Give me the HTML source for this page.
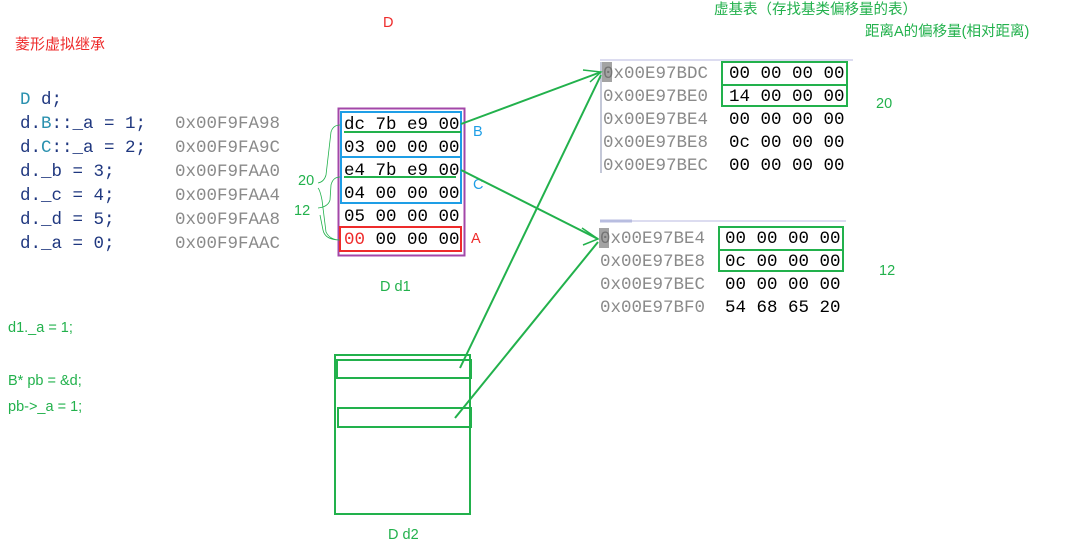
<!DOCTYPE html>
<html><head><meta charset="utf-8"><style>
html,body{margin:0;padding:0;background:#fff;}
svg{display:block}
.m{font-family:"Liberation Mono","DejaVu Sans Mono",monospace;font-size:17.5px;}
.s{font-family:"Liberation Sans","Noto Sans CJK SC",sans-serif;font-size:14.5px;}
</style></head><body>
<svg width="1067" height="550" xmlns="http://www.w3.org/2000/svg">
<g class="s">
<text x="15" y="49" fill="#ee2b2b" style="font-size:15px">菱形虚拟继承</text>
<text x="383" y="27" fill="#ee2b2b">D</text>
<text x="714" y="14" fill="#22b14c">虚基表（存找基类偏移量的表）</text>
<text x="865" y="36" fill="#22b14c">距离A的偏移量(相对距离)</text>
<text x="876" y="108" fill="#22b14c">20</text>
<text x="879" y="275" fill="#22b14c">12</text>
<text x="380" y="291" fill="#22b14c">D d1</text>
<text x="388" y="539" fill="#22b14c">D d2</text>
<text x="8" y="332" fill="#22b14c">d1._a = 1;</text>
<text x="8" y="385" fill="#22b14c">B* pb = &amp;d;</text>
<text x="8" y="411" fill="#22b14c">pb-&gt;_a = 1;</text>
<text x="473" y="136" fill="#1e9ee6">B</text>
<text x="473" y="189" fill="#1e9ee6">C</text>
<text x="471" y="243" fill="#ee2b2b">A</text>
<text x="298" y="185" fill="#22b14c">20</text>
<text x="294" y="215" fill="#22b14c">12</text>
</g>
<g class="m">
<text x="20" y="104"><tspan fill="#2b91af">D</tspan><tspan fill="#1f377f"> d;</tspan></text>
<text x="20" y="128" fill="#1f377f">d.<tspan fill="#2b91af">B</tspan>::_a = 1;</text>
<text x="20" y="152" fill="#1f377f">d.<tspan fill="#2b91af">C</tspan>::_a = 2;</text>
<text x="20" y="176" fill="#1f377f">d._b = 3;</text>
<text x="20" y="200" fill="#1f377f">d._c = 4;</text>
<text x="20" y="224" fill="#1f377f">d._d = 5;</text>
<text x="20" y="248" fill="#1f377f">d._a = 0;</text>
<g fill="#8a8a8a">
<text x="175" y="128">0x00F9FA98</text>
<text x="175" y="152">0x00F9FA9C</text>
<text x="175" y="176">0x00F9FAA0</text>
<text x="175" y="200">0x00F9FAA4</text>
<text x="175" y="224">0x00F9FAA8</text>
<text x="175" y="248">0x00F9FAAC</text>
</g>
<g fill="#000">
<text x="344" y="129">dc 7b e9 00</text>
<text x="344" y="152">03 00 00 00</text>
<text x="344" y="175">e4 7b e9 00</text>
<text x="344" y="198">04 00 00 00</text>
<text x="344" y="221">05 00 00 00</text>
<text x="344" y="244"><tspan fill="#ee2b2b">00</tspan> 00 00 00</text>
</g>
<g fill="#8a8a8a">
<text x="603" y="78">0x00E97BDC</text>
<text x="603" y="101">0x00E97BE0</text>
<text x="603" y="124">0x00E97BE4</text>
<text x="603" y="147">0x00E97BE8</text>
<text x="603" y="170">0x00E97BEC</text>
<text x="600" y="243">0x00E97BE4</text>
<text x="600" y="266">0x00E97BE8</text>
<text x="600" y="289">0x00E97BEC</text>
<text x="600" y="312">0x00E97BF0</text>
</g>
<g fill="#000">
<text x="729" y="78">00 00 00 00</text>
<text x="729" y="101">14 00 00 00</text>
<text x="729" y="124">00 00 00 00</text>
<text x="729" y="147">0c 00 00 00</text>
<text x="729" y="170">00 00 00 00</text>
<text x="725" y="243">00 00 00 00</text>
<text x="725" y="266">0c 00 00 00</text>
<text x="725" y="289">00 00 00 00</text>
<text x="725" y="312">54 68 65 20</text>
</g>
</g>
<rect x="602" y="62" width="10" height="20" fill="#666" opacity="0.6"/>
<rect x="599" y="228" width="10" height="20" fill="#666" opacity="0.6"/>
<line x1="600" y1="60" x2="853" y2="60" stroke="#dcdcf0" stroke-width="2"/>
<line x1="601" y1="62" x2="601" y2="173" stroke="#8890b0" stroke-width="1"/>
<line x1="600" y1="221" x2="846" y2="221" stroke="#dcdcf0" stroke-width="2"/>
<line x1="600" y1="221" x2="632" y2="221" stroke="#b8bde0" stroke-width="3"/>
<g fill="none">
<rect x="338.5" y="108.5" width="126" height="147" stroke="#a347a8" stroke-width="2"/>
<rect x="341" y="112" width="120" height="45" stroke="#1e9ee6" stroke-width="2"/>
<rect x="341" y="157" width="120" height="46" stroke="#1e9ee6" stroke-width="2"/>
<rect x="340" y="227" width="121" height="24" stroke="#ee2b2b" stroke-width="2"/>
<g stroke="#22b14c" stroke-width="2">
<line x1="344" y1="132" x2="461" y2="132"/>
<line x1="344" y1="177" x2="456" y2="177"/>
<rect x="722" y="62" width="125" height="23"/>
<rect x="722" y="85" width="125" height="21"/>
<rect x="719" y="227" width="124" height="23"/>
<rect x="719" y="250" width="124" height="21"/>
<rect x="335" y="355" width="135" height="159"/>
<rect x="337" y="360" width="134" height="18"/>
<rect x="338" y="408" width="133" height="19"/>
<line x1="461" y1="124" x2="601" y2="72"/>
<line x1="461" y1="170" x2="598" y2="239"/>
<line x1="460" y1="368" x2="601" y2="75"/>
<line x1="455" y1="418" x2="598" y2="242"/>
<path d="M583,70 L601,72 L590,82" stroke-width="1.5"/>
<path d="M582,228 L598,239 L583,245" stroke-width="1.5"/>
</g>
<path d="M340,125 Q333,125 331,132 L326,175 Q324,182 318,183 M340,177 Q333,177 331,185 L330,200 Q328,207 318,208 M340,240 Q330,240 326,232 L322,200 Q320,190 318,188 M340,240 Q325,240 323,230 L320,215" stroke="#22b14c" stroke-width="0.8"/>
</g>
</svg>
</body></html>
